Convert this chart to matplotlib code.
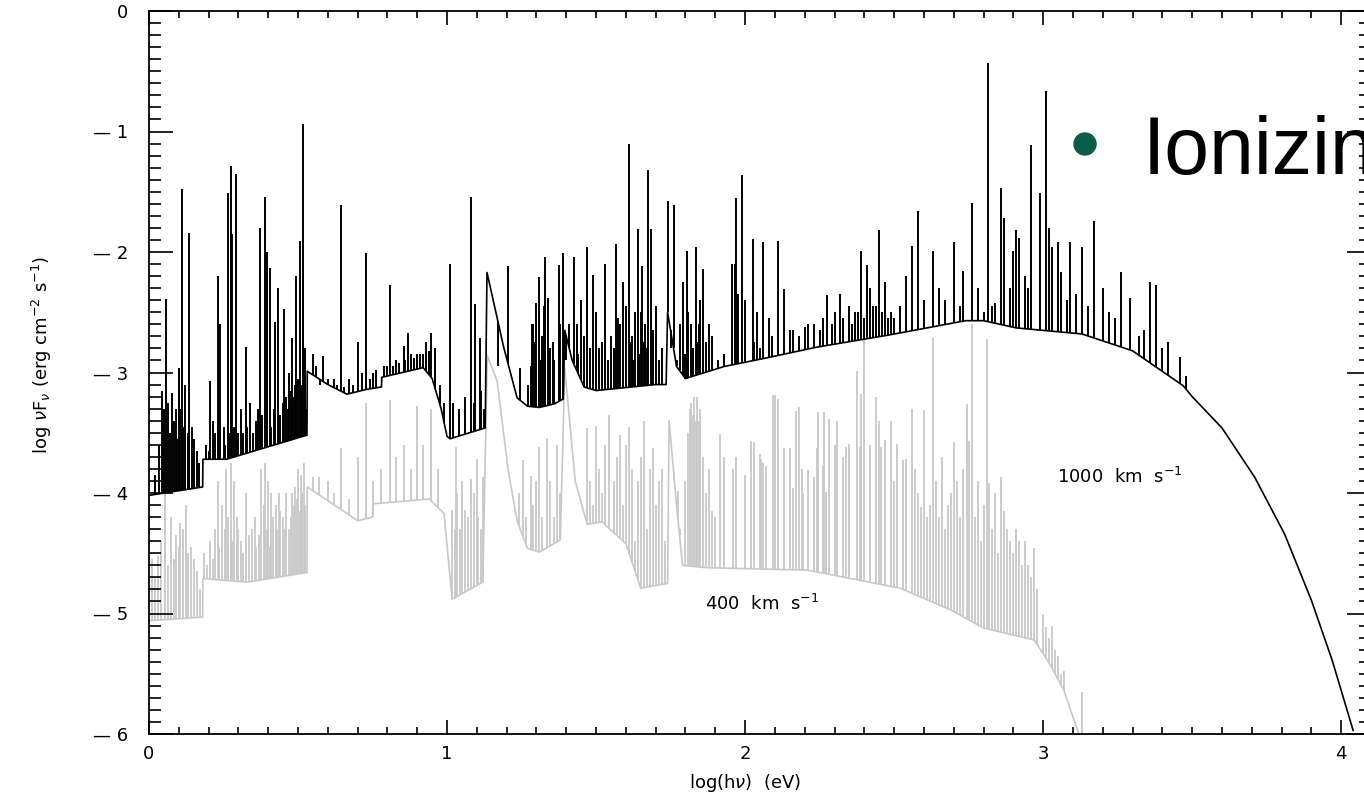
import numpy as np
import matplotlib
matplotlib.use("Agg")
import matplotlib.pyplot as plt
from matplotlib.ticker import MultipleLocator, FixedLocator, FixedFormatter
from matplotlib.patches import Ellipse

# continuum, 1000 km/s (black)
blk_cx = [0.0, 0.18, 0.181, 0.26, 0.53, 0.531, 0.60, 0.664, 0.73, 0.78, 0.781, 0.85,
          0.92, 0.95, 0.98, 1.0, 1.01, 1.128, 1.134, 1.19, 1.235, 1.27, 1.31, 1.36,
          1.39, 1.395, 1.42, 1.46, 1.50, 1.62, 1.70, 1.735, 1.74, 1.77, 1.80, 1.93,
          2.07, 2.24, 2.48, 2.74, 2.80, 2.91, 3.13, 3.30, 3.47, 3.50, 3.60, 3.71,
          3.81, 3.90, 3.97, 4.04]
blk_cy = [-4.02, -3.95, -3.72, -3.72, -3.52, -2.99, -3.10, -3.18, -3.14, -3.12, -3.04, -3.00,
          -2.96, -3.05, -3.30, -3.53, -3.55, -3.46, -2.17, -2.79, -3.21, -3.28, -3.29, -3.26,
          -3.22, -2.65, -2.90, -3.12, -3.15, -3.12, -3.10, -3.10, -2.50, -2.95, -3.05, -2.95,
          -2.88, -2.79, -2.69, -2.57, -2.57, -2.63, -2.68, -2.82, -3.11, -3.20, -3.46, -3.87,
          -4.34, -4.89, -5.39, -5.97]

# continuum, 400 km/s (grey)
gry_cx = [0.0, 0.18, 0.181, 0.33, 0.53, 0.531, 0.70, 0.75, 0.751, 0.94, 0.99, 1.017,
          1.12, 1.135, 1.168, 1.205, 1.235, 1.27, 1.31, 1.38, 1.395, 1.43, 1.47, 1.52,
          1.60, 1.65, 1.74, 1.745, 1.77, 1.79, 1.87, 2.21, 2.52, 2.69, 2.80, 2.97,
          3.02, 3.07, 3.10, 3.12]
gry_cy = [-5.06, -5.03, -4.71, -4.74, -4.66, -3.95, -4.23, -4.20, -4.09, -4.05, -4.17, -4.88,
          -4.74, -2.86, -3.07, -3.81, -4.23, -4.46, -4.49, -4.39, -2.97, -3.90, -4.26, -4.24,
          -4.42, -4.79, -4.75, -3.40, -4.10, -4.60, -4.62, -4.64, -4.79, -4.97, -5.12, -5.22,
          -5.41, -5.64, -5.86, -6.0]

# strong line peaks, 1000 km/s
blk_lx = [0.02, 0.045, 0.057, 0.065, 0.077, 0.09, 0.10, 0.111, 0.12, 0.135, 0.145, 0.152,
          0.16, 0.168, 0.205, 0.215, 0.23, 0.238, 0.25, 0.265, 0.275, 0.28, 0.293, 0.31,
          0.324, 0.34, 0.36, 0.374, 0.39, 0.395, 0.406, 0.42, 0.424, 0.433, 0.453, 0.46,
          0.47, 0.48, 0.49, 0.493, 0.50, 0.507, 0.51, 0.518, 0.525, 0.56, 0.585, 0.62,
          0.643, 0.67, 0.70, 0.715, 0.727, 0.76, 0.79, 0.81, 0.83, 0.855, 0.87, 0.89,
          0.91, 0.93, 0.946, 0.96, 0.975, 0.99, 1.01, 1.02, 1.04, 1.06, 1.08, 1.09,
          1.094, 1.11, 1.115, 1.17, 1.205, 1.245, 1.27, 1.29, 1.30, 1.31, 1.32, 1.33,
          1.34, 1.355, 1.375, 1.39, 1.41, 1.425, 1.45, 1.47, 1.49, 1.51, 1.53, 1.55,
          1.567, 1.58, 1.59, 1.61, 1.62, 1.63, 1.64, 1.655, 1.665, 1.675, 1.685, 1.70,
          1.72, 1.74, 1.76, 1.78, 1.79, 1.805, 1.82, 1.835, 1.85, 1.86, 1.89, 1.93,
          1.97, 1.975, 1.99, 2.0, 2.025, 2.04, 2.06, 2.08, 2.11, 2.13, 2.16, 2.20,
          2.23, 2.26, 2.275, 2.30, 2.32, 2.35, 2.37, 2.39, 2.41, 2.42, 2.44, 2.45,
          2.47, 2.49, 2.52, 2.54, 2.56, 2.58, 2.60, 2.63, 2.65, 2.67, 2.70, 2.72,
          2.73, 2.76, 2.78, 2.80, 2.815, 2.83, 2.84, 2.86, 2.87, 2.89, 2.90, 2.91,
          2.92, 2.94, 2.95, 2.96, 2.99, 3.01, 3.02, 3.03, 3.05, 3.06, 3.08, 3.09,
          3.11, 3.13, 3.15, 3.17, 3.20, 3.22, 3.24, 3.26, 3.29, 3.32, 3.34, 3.36,
          3.38, 3.40, 3.42, 3.46, 3.48]
blk_ly = [-3.85, -3.15, -2.39, -3.25, -3.17, -3.30, -2.96, -1.48, -3.10, -1.84, -3.45, -3.55,
          -3.65, -3.75, -3.07, -3.40, -2.20, -2.60, -3.45, -1.51, -1.29, -1.85, -1.35, -3.30,
          -2.79, -3.25, -3.40, -1.80, -1.54, -2.00, -2.13, -3.30, -2.58, -2.30, -2.47, -3.20,
          -3.00, -2.71, -3.10, -2.20, -3.05, -1.91, -3.15, -0.94, -2.80, -2.95, -2.86, -3.05,
          -1.61, -3.05, -2.75, -3.00, -2.01, -2.98, -2.95, -2.27, -2.90, -2.78, -2.67, -2.88,
          -2.85, -2.75, -2.67, -2.80, -3.10, -3.25, -2.10, -3.25, -3.30, -3.20, -1.54, -3.25,
          -2.43, -2.71, -3.15, -2.95, -2.12, -2.96, -3.10, -2.60, -2.42, -2.21, -2.70, -2.04,
          -2.38, -2.75, -2.11, -2.01, -2.60, -2.04, -2.40, -1.96, -2.19, -2.80, -2.10, -2.70,
          -1.93, -2.60, -2.25, -1.10, -2.70, -2.50, -1.81, -2.12, -2.60, -1.32, -1.81, -2.45,
          -2.80, -1.58, -1.61, -2.60, -2.25, -1.99, -2.60, -1.96, -2.40, -2.14, -2.70, -2.85,
          -1.55, -2.35, -1.36, -2.40, -1.89, -2.50, -1.92, -2.55, -1.91, -2.31, -2.65, -2.62,
          -2.60, -2.55, -2.36, -2.50, -2.35, -2.45, -2.50, -1.99, -2.11, -2.30, -2.45, -1.82,
          -2.25, -2.50, -2.45, -2.20, -1.95, -1.66, -2.40, -1.99, -2.30, -2.40, -1.92, -2.45,
          -2.16, -1.59, -2.30, -2.50, -0.43, -2.45, -2.42, -1.47, -1.72, -2.30, -1.99, -1.82,
          -1.88, -2.20, -2.30, -1.11, -1.51, -0.66, -1.80, -1.96, -1.92, -2.17, -2.40, -1.92,
          -2.35, -1.96, -2.45, -1.74, -2.30, -2.50, -2.55, -2.17, -2.38, -2.70, -2.65, -2.25,
          -2.27, -2.80, -2.75, -2.87, -3.03]

# weak line peaks, 1000 km/s
blk_wx = [0.035, 0.05, 0.07, 0.085, 0.095, 0.105, 0.115, 0.13, 0.19, 0.20, 0.22, 0.235,
          0.255, 0.27, 0.285, 0.30, 0.315, 0.33, 0.35, 0.365, 0.38, 0.41, 0.44, 0.45,
          0.465, 0.475, 0.485, 0.497, 0.505, 0.515, 0.52, 0.528, 0.55, 0.575, 0.60, 0.63,
          0.655, 0.685, 0.74, 0.75, 0.80, 0.82, 0.84, 0.86, 0.88, 0.90, 0.92, 0.94,
          1.125, 1.28, 1.285, 1.295, 1.315, 1.325, 1.345, 1.36, 1.38, 1.40, 1.435, 1.44,
          1.46, 1.48, 1.50, 1.52, 1.54, 1.56, 1.575, 1.60, 1.615, 1.625, 1.645, 1.65,
          1.66, 1.67, 1.69, 1.71, 1.75, 1.77, 1.80, 1.81, 1.825, 1.84, 1.845, 1.87,
          1.88, 1.91, 1.955, 1.965, 2.03, 2.05, 2.09, 2.15, 2.18, 2.21, 2.25, 2.29,
          2.33, 2.36, 2.38, 2.40, 2.43, 2.46, 2.48, 2.50]
blk_wy = [-3.60, -3.30, -3.50, -3.40, -3.55, -3.30, -3.45, -3.50, -3.60, -3.65, -3.50, -3.55,
          -3.60, -3.50, -3.45, -3.50, -3.50, -3.45, -3.50, -3.30, -3.35, -3.45, -3.35, -3.25,
          -3.30, -3.15, -3.20, -3.10, -3.00, -3.10, -3.20, -3.30, -2.85, -3.10, -3.05, -3.10,
          -3.12, -3.10, -3.05, -3.00, -2.95, -2.95, -2.92, -2.90, -2.85, -2.85, -2.85, -2.82,
          -3.30, -2.95, -2.60, -2.75, -2.90, -2.45, -2.80, -2.90, -2.60, -2.90, -2.60, -2.85,
          -2.70, -2.80, -2.50, -2.75, -2.90, -2.80, -2.55, -2.45, -2.75, -2.90, -2.85, -2.50,
          -2.75, -2.80, -2.65, -2.90, -2.80, -2.90, -2.85, -2.50, -2.80, -2.75, -2.60, -2.75,
          -2.60, -2.90, -2.10, -2.10, -2.75, -2.80, -2.70, -2.65, -2.70, -2.60, -2.65, -2.60,
          -2.55, -2.60, -2.50, -2.55, -2.45, -2.50, -2.55, -2.55]

# line peaks, 400 km/s
gry_lx = [0.01, 0.03, 0.055, 0.075, 0.09, 0.105, 0.125, 0.14, 0.15, 0.16, 0.17, 0.205,
          0.215, 0.23, 0.245, 0.26, 0.275, 0.285, 0.30, 0.31, 0.325, 0.345, 0.36, 0.375,
          0.39, 0.40, 0.41, 0.425, 0.435, 0.45, 0.47, 0.48, 0.49, 0.50, 0.51, 0.52,
          0.55, 0.57, 0.60, 0.62, 0.643, 0.67, 0.70, 0.727, 0.75, 0.78, 0.81, 0.83,
          0.855, 0.88, 0.90, 0.92, 0.945, 0.97, 1.017, 1.03, 1.045, 1.06, 1.08, 1.10,
          1.12, 1.255, 1.28, 1.31, 1.335, 1.37, 1.47, 1.50, 1.545, 1.58, 1.61, 1.66,
          1.69, 1.72, 1.775, 1.82, 1.83, 1.84, 1.85, 1.89, 1.915, 1.93, 1.96, 1.97,
          2.0, 2.03, 2.05, 2.06, 2.094, 2.13, 2.16, 2.17, 2.19, 2.21, 2.245, 2.26,
          2.28, 2.30, 2.33, 2.34, 2.39, 2.42, 2.45, 2.47, 2.50, 2.53, 2.56, 2.59,
          2.62, 2.63, 2.68, 2.70, 2.745, 2.76, 2.80, 2.81, 2.82, 2.86, 2.87, 2.89,
          2.92, 2.96, 2.97, 3.01, 3.04, 3.07, 3.13]
gry_ly = [-4.55, -4.52, -3.95, -4.20, -4.35, -4.25, -4.10, -4.45, -4.55, -4.65, -4.80, -4.40,
          -4.55, -3.90, -4.10, -3.80, -3.75, -3.90, -4.30, -4.40, -4.00, -4.30, -4.45, -3.80,
          -3.75, -3.90, -4.00, -4.10, -4.00, -4.20, -4.30, -4.00, -3.95, -3.80, -3.85, -3.75,
          -3.87, -3.87, -3.90, -4.00, -3.63, -4.05, -3.70, -3.25, -3.90, -3.80, -3.23, -3.70,
          -3.60, -3.80, -3.28, -3.60, -3.30, -3.80, -4.14, -3.62, -4.30, -4.14, -3.88, -3.72,
          -3.87, -3.73, -3.86, -3.62, -3.54, -3.60, -3.46, -3.44, -3.35, -3.52, -3.45, -3.40,
          -3.63, -3.80, -3.98, -3.25, -3.20, -3.20, -3.30, -4.15, -3.51, -3.70, -3.80, -3.70,
          -3.85, -3.58, -3.68, -3.75, -3.19, -3.63, -3.96, -3.32, -3.80, -3.81, -3.33, -3.78,
          -3.39, -3.60, -3.70, -3.62, -3.18, -3.60, -3.40, -3.56, -3.90, -3.73, -3.30, -4.12,
          -4.10, -2.71, -4.10, -3.58, -3.26, -2.60, -4.10, -2.72, -3.92, -3.87, -4.15, -4.40,
          -4.40, -4.70, -4.46, -5.11, -5.30, -5.48, -5.65]

# further line peaks, 400 km/s
gry_wx = [0.02, 0.04, 0.065, 0.085, 0.10, 0.115, 0.13, 0.185, 0.195, 0.22, 0.235, 0.255,
          0.265, 0.28, 0.295, 0.315, 0.335, 0.355, 0.37, 0.385, 0.395, 0.405, 0.415, 0.43,
          0.44, 0.455, 0.46, 0.475, 0.485, 0.495, 0.505, 0.515, 0.525, 1.025, 1.035, 1.05,
          1.07, 1.09, 1.105, 1.115, 1.24, 1.265, 1.29, 1.30, 1.32, 1.345, 1.36, 1.38,
          1.48, 1.49, 1.51, 1.52, 1.53, 1.56, 1.57, 1.59, 1.60, 1.62, 1.63, 1.64,
          1.65, 1.67, 1.68, 1.70, 1.71, 1.73, 1.76, 1.78, 1.80, 1.81, 1.815, 1.825,
          1.835, 1.845, 1.86, 1.87, 1.88, 1.90, 2.02, 2.055, 2.07, 2.10, 2.11, 2.15,
          2.18, 2.195, 2.23, 2.24, 2.265, 2.27, 2.31, 2.35, 2.375, 2.385, 2.40, 2.44,
          2.455, 2.49, 2.51, 2.54, 2.57, 2.58, 2.60, 2.61, 2.64, 2.65, 2.66, 2.67,
          2.69, 2.71, 2.72, 2.73, 2.75, 2.77, 2.78, 2.79, 2.83, 2.84, 2.85, 2.88,
          2.90, 2.91, 2.93, 2.94, 2.95, 2.98, 3.00, 3.02, 3.03, 3.05, 3.06]
gry_wy = [-4.70, -4.40, -4.60, -4.55, -4.45, -4.30, -4.50, -4.50, -4.60, -4.30, -4.45, -4.30,
          -4.20, -4.40, -4.20, -4.50, -4.35, -4.20, -4.35, -4.10, -4.30, -4.45, -4.20, -4.30,
          -4.15, -4.30, -4.00, -4.20, -4.10, -4.05, -4.15, -4.00, -4.10, -4.30, -4.00, -3.90,
          -4.20, -4.00, -4.20, -4.30, -4.00, -4.20, -4.10, -3.90, -4.20, -3.90, -4.20, -4.00,
          -3.90, -4.10, -3.80, -4.00, -3.60, -3.90, -3.70, -4.10, -3.60, -3.80, -4.40, -3.90,
          -3.70, -4.30, -3.80, -4.10, -3.90, -4.40, -3.90, -4.30, -3.90, -3.50, -3.30, -3.35,
          -3.40, -3.40, -3.70, -4.00, -3.80, -4.20, -3.57, -3.72, -3.78, -3.19, -3.22, -3.63,
          -3.29, -4.00, -3.87, -3.63, -3.33, -3.99, -3.40, -3.59, -2.99, -3.62, -2.70, -3.20,
          -3.62, -3.40, -3.59, -3.72, -3.80, -4.00, -3.31, -4.20, -3.90, -4.20, -3.70, -4.30,
          -4.00, -3.90, -4.20, -3.80, -3.57, -4.20, -3.90, -4.40, -4.30, -4.00, -4.50, -4.30,
          -4.50, -4.30, -4.60, -4.40, -4.60, -4.80, -5.00, -5.20, -5.10, -5.35, -5.50]

ytick_vals = [-6, -5, -4, -3, -2, -1, 0]
ytick_labels = ['\u2014 6', '\u2014 5', '\u2014 4', '\u2014 3', '\u2014 2', '\u2014 1', '0']
xtick_vals = [0, 1, 2, 3, 4]
xtick_labels = ['0', '1', '2', '3', '4']

W, H = 1364, 801
fig = plt.figure(figsize=(W / 100, H / 100), dpi=100)
ax = fig.add_axes([149 / W, 1 - 734 / H, 1222 / W, 723 / H])

grey = '#c8c8c8'
# 400 km/s spectrum
for lx, ly in [(gry_lx, gry_ly), (gry_wx, gry_wy)]:
    base = np.interp(lx, gry_cx, gry_cy)
    ax.vlines(lx, base, ly, color=grey, lw=1.3, zorder=1)
ax.plot(gry_cx, gry_cy, color=grey, lw=1.2, zorder=1)
# 1000 km/s spectrum
for lx, ly in [(blk_lx, blk_ly), (blk_wx, blk_wy)]:
    base = np.interp(lx, blk_cx, blk_cy)
    ax.vlines(lx, base, ly, color='black', lw=1.4, zorder=2)
ax.plot(blk_cx, blk_cy, color='black', lw=1.2, zorder=2)

ax.set_xlim(0, 4.10)
ax.set_ylim(-6, 0)

ax.xaxis.set_major_locator(FixedLocator(xtick_vals))
ax.xaxis.set_major_formatter(FixedFormatter(xtick_labels))
ax.yaxis.set_major_locator(FixedLocator(ytick_vals))
ax.yaxis.set_major_formatter(FixedFormatter(ytick_labels))
ax.xaxis.set_minor_locator(MultipleLocator(0.1))
ax.yaxis.set_minor_locator(MultipleLocator(0.1))

ax.tick_params(which='both', direction='in', top=True, right=True, width=1.2,
               labelsize=13, color='black')
ax.tick_params(axis='x', which='major', length=10, pad=8)
ax.tick_params(axis='x', which='minor', length=5)
ax.tick_params(axis='y', which='major', length=17, pad=15)
ax.tick_params(axis='y', which='minor', length=8.5)
for s in ax.spines.values():
    s.set_linewidth(1.3)

fig.text(745 / W, 1 - 783 / H, r'log(h$\nu$)  (eV)', ha='center', va='center', fontsize=13)
fig.text(42 / W, 1 - 355 / H, r'log $\nu$F$_\nu$ (erg cm$^{-2}$ s$^{-1}$)',
         rotation=90, ha='center', va='center', fontsize=13)

ax.text(1.866, -4.92, r'400  km  s$^{-1}$', ha='left', va='center', fontsize=13)
ax.text(3.047, -3.87, r'1000  km  s$^{-1}$', ha='left', va='center', fontsize=13)

# slide overlay
fig.patches.append(Ellipse((1085 / W, 1 - 144 / H), 22 / W, 22 / H,
                           transform=fig.transFigure, color='#0e5a4b'))
fig.text(1143 / W, 1 - 174 / H, 'Ionizing', fontsize=58, family='Liberation Sans',
         ha='left', va='baseline')

fig.savefig('out.png', dpi=100)
